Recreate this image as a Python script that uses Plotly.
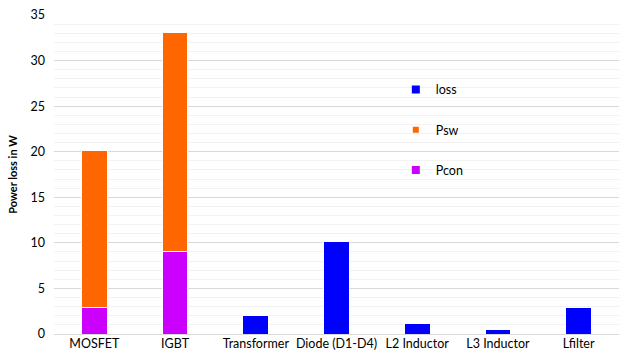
import plotly.graph_objects as go

# Components on the x axis
categories = ["MOSFET", "IGBT", "Transformer", "Diode (D1-D4)",
              "L2 Inductor", "L3 Inductor", "Lfilter"]

# Switch losses split into conduction and switching parts
switch_parts = ["MOSFET", "IGBT"]
pcon = [2.9, 9.0]
psw = [17.2, 24.1]

# Total losses of the passive / other components
other_parts = ["Transformer", "Diode (D1-D4)", "L2 Inductor", "L3 Inductor", "Lfilter"]
loss = [2.05, 10.15, 1.2, 0.5, 2.9]

y_ticks = [0, 5, 10, 15, 20, 25, 30, 35]

COL_LOSS = "#0000FF"
COL_PSW = "#FF6600"
COL_PCON = "#CC00FF"
FONT = "Lato, 'Liberation Sans', Arial, sans-serif"

fig = go.Figure()

bar_line = dict(color="white", width=1)
fig.add_trace(go.Bar(x=switch_parts, y=pcon, name="Pcon", marker=dict(color=COL_PCON, line=bar_line),
                     showlegend=False))
fig.add_trace(go.Bar(x=switch_parts, y=psw, name="Psw", marker=dict(color=COL_PSW, line=bar_line),
                     showlegend=False))
fig.add_trace(go.Bar(x=other_parts, y=loss, name="loss", marker=dict(color=COL_LOSS, line=bar_line),
                     showlegend=False))

# Legend entries drawn as small square keys
for name, col, size in [("loss", COL_LOSS, 8), ("Psw", COL_PSW, 6), ("Pcon", COL_PCON, 8)]:
    fig.add_trace(go.Scatter(x=[None], y=[None], mode="markers", name=name, legendgroup=name,
                             marker=dict(symbol="square", color=col, size=size)))

fig.update_layout(
    width=619, height=362,
    margin=dict(l=54, r=0, t=15, b=28),
    paper_bgcolor="white", plot_bgcolor="white",
    barmode="stack", bargap=0.68,
    font=dict(family=FONT, size=12, color="#000000"),
    legend=dict(x=0.605, y=0.812, xanchor="left", yanchor="top",
                traceorder="grouped", tracegroupgap=21, itemsizing="trace",
                bgcolor="rgba(0,0,0,0)", font=dict(size=12.5, color="#000000")),
)

fig.update_xaxes(categoryorder="array", categoryarray=categories,
                 showgrid=False, showline=False, ticks="",
                 tickfont=dict(size=12.5, color="#000000"))

fig.update_yaxes(range=[0, 35], tickvals=y_ticks, showline=False, ticks="",
                 gridcolor="#D9D9D9", gridwidth=1,
                 zeroline=True, zerolinecolor="#D9D9D9", zerolinewidth=1,
                 minor=dict(dtick=1, showgrid=True, gridcolor="#F2F2F2", gridwidth=1),
                 ticklabelstandoff=8,
                 tickfont=dict(size=12.5, color="#000000"),
                 title=dict(text="<b>Power loss in W</b>", standoff=10,
                            font=dict(size=11, color="#000000")))

fig.write_html("out.html")
